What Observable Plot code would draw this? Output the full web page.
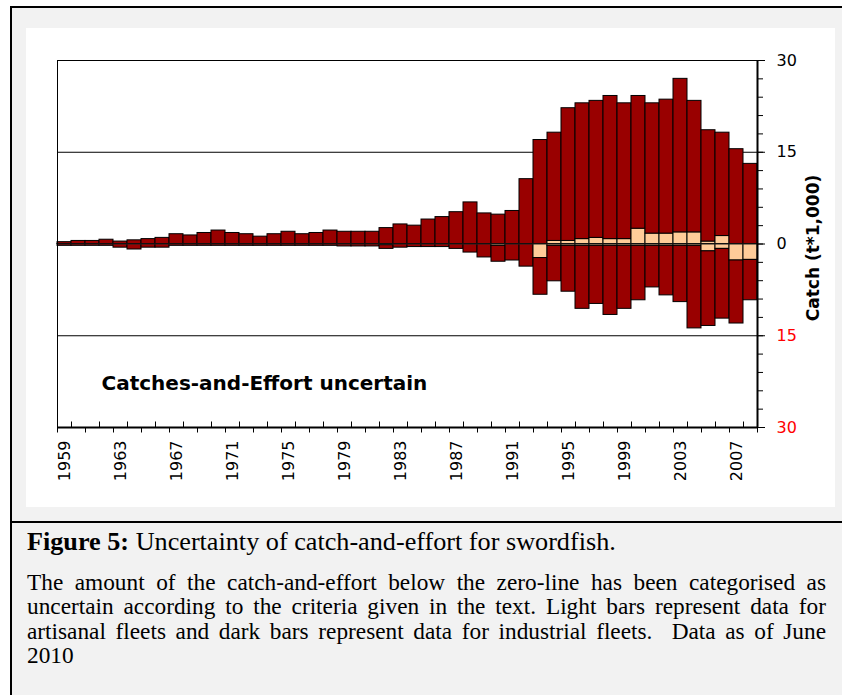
<!DOCTYPE html>
<html>
<head>
<meta charset="utf-8">
<script src="https://cdn.jsdelivr.net/npm/d3@7"></script>
<script src="https://cdn.jsdelivr.net/npm/@observablehq/plot@0.6"></script>
<style>
  html, body { margin: 0; padding: 0; background: #ffffff; width: 842px; height: 695px; overflow: hidden; }
  #outer { position: absolute; left: 10px; top: 6px; width: 840px; height: 700px;
           border-left: 2px solid #000; border-top: 2px solid #000; background: #f2f2f2; }
  #panel { position: absolute; left: 26px; top: 28px; width: 809px; height: 479px; background: #fff; }
  #sep { position: absolute; left: 10px; top: 521px; width: 840px; height: 0; border-top: 2px solid #000; }
  #fig { position: absolute; left: 27px; top: 529px; font-family: "Liberation Serif", "Times New Roman", serif;
         font-size: 26.2px; line-height: 26.4px; color: #000; white-space: nowrap; }
  #cap { position: absolute; left: 27px; top: 570px; width: 799px; font-family: "Liberation Serif", "Times New Roman", serif;
         font-size: 23.3px; line-height: 24.4px; color: #000; }
  #cap .j { text-align: justify; text-align-last: justify; white-space: nowrap; }
  #panel svg { position: absolute; left: 0; top: 0; overflow: visible; }
</style>
</head>
<body>
<div id="outer"></div>
<div id="panel"></div>
<div id="sep"></div>
<div id="fig"><b>Figure 5:</b> Uncertainty of catch-and-effort for swordfish.</div>
<div id="cap">
  <div class="j">The amount of the catch-and-effort below the zero-line has been categorised as</div>
  <div class="j">uncertain according to the criteria given in the text. Light bars represent data for</div>
  <div class="j">artisanal fleets and dark bars represent data for industrial fleets.&nbsp; Data as of June</div>
  <div>2010</div>
</div>
<script>
const years = [1959,1960,1961,1962,1963,1964,1965,1966,1967,1968,1969,1970,1971,1972,1973,1974,1975,1976,1977,1978,
  1979,1980,1981,1982,1983,1984,1985,1986,1987,1988,1989,1990,1991,1992,1993,1994,1995,1996,1997,1998,
  1999,2000,2001,2002,2003,2004,2005,2006,2007,2008];
// artisanal, certain (above zero line), t*1000
const artisanalCertain = [0,0,0,0,0,0,0,0,0,0,0,0,0,0,0,0,0,0,0,0,
  0,0,0,0,0,0,0,0,0,0,0,0,0,0,0,0.5,0.5,0.8,1.0,0.8,
  0.8,2.5,1.7,1.7,1.9,1.9,0.4,1.3,0,0];
// industrial, certain (above zero line)
const industrialCertain = [0.3,0.5,0.5,0.7,0.4,0.6,0.8,1.0,1.6,1.4,1.8,2.2,1.8,1.6,1.2,1.6,2.0,1.6,1.8,2.2,
  2.0,2.0,2.0,2.6,3.2,3.0,4.0,4.4,5.2,6.8,5.0,4.8,5.4,10.6,17.0,17.7,21.7,22.2,22.4,23.4,
  22.2,21.7,21.3,21.9,25.1,21.5,18.2,16.9,15.5,13.1];
// artisanal, uncertain (below zero line)
const artisanalUncertain = [0,0,0,0,0,0,0,0,0,0,0,0,0,0,0,0,0,0,0,0,
  0,0,0,0.2,0,0,0,0,0,0,0,0.3,0,0,2.3,0.3,0.3,0.3,0.3,0.3,
  0.3,0.3,0.3,0.3,0.3,0.3,1.2,0.8,2.7,2.6];
// industrial, uncertain (below zero line)
const industrialUncertain = [0.3,0.3,0.3,0.3,0.6,0.9,0.6,0.6,0.3,0.3,0.3,0.3,0.3,0.3,0.3,0.3,0.3,0.3,0.3,0.3,
  0.4,0.4,0.4,0.6,0.6,0.5,0.5,0.5,0.8,1.4,2.2,2.6,2.7,3.7,6.0,5.8,7.5,10.3,9.5,11.3,
  10.3,8.9,6.8,8.1,9.2,13.5,12.2,11.4,10.3,6.6];
const xLabelYears = [1959,1963,1967,1971,1975,1979,1983,1987,1991,1995,1999,2003,2007];
const yMinorTicks = d3.range(-30, 31, 3);
const yLabels = [-30,-15,0,15,30];

const DARK = "#990000", LIGHT = "#ffcc99";

// table for the stacked (diverging) bars, order gives stacking from the zero line outward
const rows = [];
years.forEach((yr, i) => {
  rows.push({year: yr, fleet: "artisanal", value: artisanalCertain[i]});
  rows.push({year: yr, fleet: "industrial", value: industrialCertain[i]});
  rows.push({year: yr, fleet: "artisanal", value: -artisanalUncertain[i]});
  rows.push({year: yr, fleet: "industrial", value: -industrialUncertain[i]});
});
const bars = rows.filter(d => d.value !== 0);

const edges = [...years.map(y => y - 0.5), years[years.length - 1] + 0.5];
const downEdges = edges.filter((e, i) => i % 2 === 0);
const upEdges = edges.filter((e, i) => i % 2 === 1);
const xDom = [edges[0], edges[edges.length - 1]];

const chart = Plot.plot({
  width: 809,
  height: 479,
  marginLeft: 31,
  marginRight: 78,
  marginTop: 32,
  marginBottom: 80,
  style: {fontFamily: "DejaVu Sans, Verdana, sans-serif", background: "transparent", overflow: "visible"},
  x: {domain: xDom, axis: null},
  y: {domain: [-30, 30], axis: null},
  color: {domain: ["artisanal", "industrial"], range: [LIGHT, DARK]},
  marks: [
    Plot.ruleY([15, -15], {stroke: "#000", strokeWidth: 1}),
    Plot.rectY(bars, {x1: d => d.year - 0.5, x2: d => d.year + 0.5, y: "value", fill: "fleet",
                      stroke: "#000", strokeWidth: 1, order: null}),
    Plot.ruleY([0], {stroke: "#222", strokeWidth: 1.2}),
    Plot.ruleX([xDom[0]], {stroke: "#000", strokeWidth: 1}),
    Plot.ruleY([30], {stroke: "#000", strokeWidth: 1}),
    Plot.ruleY([-30], {stroke: "#000", strokeWidth: 2}),
    Plot.ruleX([xDom[1]], {stroke: "#000", strokeWidth: 2}),
    // x ticks at each year boundary, alternately below and above the axis
    Plot.ruleX(downEdges, {x: d => d, y1: -30, y2: -30.9, stroke: "#000", strokeWidth: 1}),
    Plot.ruleX(upEdges, {x: d => d, y1: -30, y2: -29.1, stroke: "#000", strokeWidth: 1}),
    // right y ticks
    Plot.axisY({anchor: "right", ticks: yMinorTicks, tickSize: 5, tickFormat: () => "", label: null, stroke: "#000"}),
    Plot.axisY({anchor: "right", ticks: yLabels, tickSize: 7, tickFormat: () => "", label: null, stroke: "#000"}),
    Plot.text(yLabels, {y: d => d, text: d => String(Math.abs(d)), frameAnchor: "right", dx: 19,
                        textAnchor: "start", fill: d => d < 0 ? "#ff0000" : "#000", fontSize: 16}),
    Plot.text(xLabelYears, {x: d => d, text: d => String(d), frameAnchor: "bottom", rotate: -90,
                            textAnchor: "end", lineAnchor: "middle", dy: 13, fontSize: 16, fill: "#000"}),
    Plot.text(["Catch (t*1,000)"], {frameAnchor: "right", dx: 56, dy: 4, rotate: -90, textAnchor: "middle",
                                    lineAnchor: "middle", fontWeight: "bold", fontSize: 17, fill: "#000"}),
    Plot.text(["Catches-and-Effort uncertain"], {frameAnchor: "bottom-left", dx: 44, dy: -44, textAnchor: "start",
                                    lineAnchor: "middle", fontWeight: "bold", fontSize: 20, fill: "#000"})
  ]
});
document.getElementById("panel").appendChild(chart);
</script>
</body>
</html>
